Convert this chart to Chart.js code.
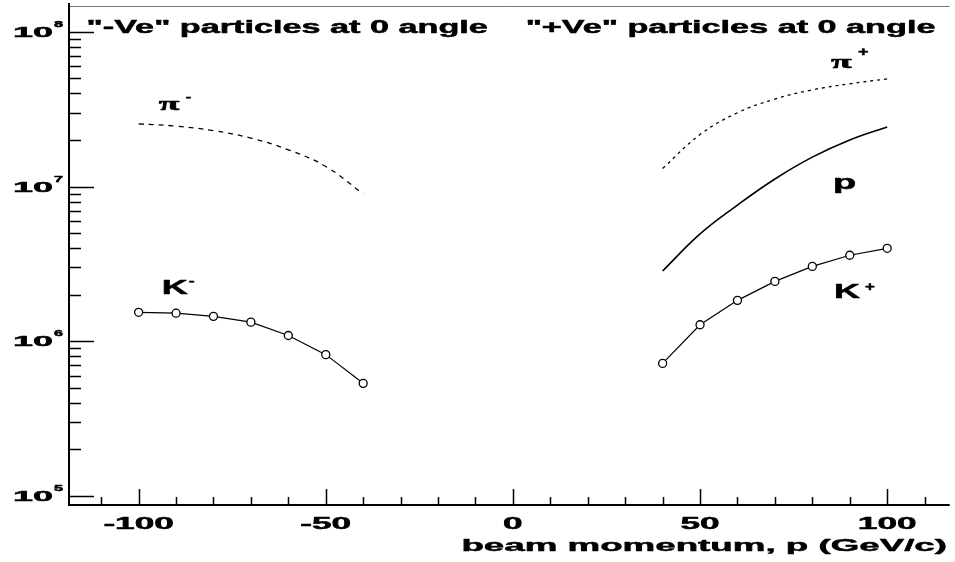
<!DOCTYPE html>
<html>
<head>
<meta charset="utf-8">
<script src="https://cdn.jsdelivr.net/npm/chart.js@4.4.1/dist/chart.umd.min.js"></script>
<style>
  html, body { margin: 0; padding: 0; background: #fff; }
  #wrap { width: 955px; height: 562px; }
</style>
</head>
<body>
<div id="wrap"><canvas id="chart" width="955" height="562"></canvas></div>
<script>
// beam momentum (GeV/c)
const negMomenta = [-100, -90, -80, -70, -60, -50, -40];
const posMomenta = [40, 50, 60, 70, 80, 90, 100];

// yields at 0 angle
const piMinus = [2.54e7, 2.46e7, 2.30e7, 2.06e7, 1.73e7, 1.35e7, 8.97e6];
const kMinus = [1.54e6, 1.52e6, 1.45e6, 1.33e6, 1.09e6, 8.2e5, 5.35e5];
const piPlus = [1.31e7, 2.17e7, 3.0e7, 3.68e7, 4.22e7, 4.62e7, 4.97e7];
const proton = [2.85e6, 4.95e6, 7.6e6, 1.12e7, 1.55e7, 2.0e7, 2.43e7];
const kPlus = [7.2e5, 1.28e6, 1.84e6, 2.44e6, 3.05e6, 3.6e6, 3.99e6];

// ticks
const xMajorTicks = [-100, -50, 0, 50, 100];
const xMinorTicks = [-110, -90, -80, -70, -60, -40, -30, -20, -10, 10, 20, 30, 40, 60, 70, 80, 90, 110];
const yDecades = [5, 6, 7, 8];

const FONT = "'Liberation Sans', Arial, sans-serif";
const SERIF = "'Liberation Serif', 'Times New Roman', serif";

function pts(xs, ys) {
  return xs.map((x, i) => ({ x: x, y: ys[i] }));
}

// text is drawn horizontally stretched and a bit heavier, like the old plot
function wideText(ctx, str, x, y, size, sx, align, family) {
  ctx.save();
  ctx.font = "bold " + size + "px " + (family || FONT);
  ctx.textAlign = align || "left";
  ctx.textBaseline = "alphabetic";
  ctx.fillStyle = "#000";
  ctx.strokeStyle = "#000";
  ctx.lineWidth = 0.5;
  ctx.lineJoin = "round";
  ctx.translate(x, y);
  ctx.scale(sx, 1);
  ctx.fillText(str, 0, 0);
  ctx.strokeText(str, 0, 0);
  ctx.restore();
}

const frame = {
  id: "frame",
  afterDraw(chart) {
    const ctx = chart.ctx;
    const area = chart.chartArea;
    const xs = chart.scales.x, ys = chart.scales.y;

    ctx.save();
    // top border
    ctx.strokeStyle = "#777";
    ctx.lineWidth = 1;
    ctx.beginPath();
    ctx.moveTo(area.left, area.top + 0.5);
    ctx.lineTo(area.right, area.top + 0.5);
    ctx.stroke();
    // axes
    ctx.strokeStyle = "#000";
    ctx.lineWidth = 2;
    ctx.beginPath();
    ctx.moveTo(area.left, area.top - 3);
    ctx.lineTo(area.left, area.bottom);
    ctx.lineTo(area.right, area.bottom);
    ctx.stroke();

    // y ticks, pointing inside
    ctx.lineWidth = 1.5;
    ctx.beginPath();
    yDecades.forEach(d => {
      for (let k = 1; k <= 9; k++) {
        const v = k * Math.pow(10, d);
        if (v > ys.max) continue;
        const y = Math.round(ys.getPixelForValue(v)) + 0.5;
        ctx.moveTo(area.left, y);
        ctx.lineTo(area.left + (k === 1 ? 25 : 12), y);
      }
    });
    // x ticks, pointing up
    xMajorTicks.forEach(v => {
      const x = Math.round(xs.getPixelForValue(v)) + 0.5;
      ctx.moveTo(x, area.bottom);
      ctx.lineTo(x, area.bottom - 16);
    });
    xMinorTicks.forEach(v => {
      const x = Math.round(xs.getPixelForValue(v)) + 0.5;
      ctx.moveTo(x, area.bottom);
      ctx.lineTo(x, area.bottom - 8);
    });
    ctx.stroke();
    ctx.restore();

    // y tick labels 10^n
    yDecades.forEach(d => {
      const y = ys.getPixelForValue(Math.pow(10, d));
      wideText(ctx, "10", 53, y + 5, 15, 2.4, "right");
      wideText(ctx, String(d), 54, y - 5, 9, 1.8, "left");
    });
    // x tick labels
    xMajorTicks.forEach(v => {
      const x = xs.getPixelForValue(v);
      const s = v < 0 ? "-" + Math.abs(v) : String(v);
      wideText(ctx, s, x, 529, 16, 2.2, "center");
    });
    // x axis title
    wideText(ctx, "beam momentum, p (GeV/c)", 947, 551, 17, 2.16, "right");

    // headers
    const hy = ys.getPixelForValue(9.86e7);
    wideText(ctx, "\"-Ve\" particles at 0 angle", xs.getPixelForValue(-113.9), hy, 18, 1.9, "left");
    wideText(ctx, "\"+Ve\" particles at 0 angle", xs.getPixelForValue(3.4), hy, 18, 1.9, "left");

    // curve labels
    let x, y;
    x = xs.getPixelForValue(-94.6); y = ys.getPixelForValue(3.15e7);
    wideText(ctx, "\u03c0", x, y, 18, 2.1, "left", SERIF);
    wideText(ctx, "-", x + 27, y - 10, 10, 1.6, "left");

    x = xs.getPixelForValue(85); y = ys.getPixelForValue(5.87e7);
    wideText(ctx, "\u03c0", x, y, 18, 2.1, "left", SERIF);
    wideText(ctx, "+", x + 27, y - 12, 12, 1.5, "left");

    x = xs.getPixelForValue(85.5); y = ys.getPixelForValue(9.6e6);
    wideText(ctx, "p", x, y, 20, 1.9, "left");

    x = xs.getPixelForValue(-93.8); y = ys.getPixelForValue(2.01e6);
    wideText(ctx, "K", x, y, 20, 1.8, "left");
    wideText(ctx, "-", x + 27, y - 10, 11, 1.6, "left");

    x = xs.getPixelForValue(85.8); y = ys.getPixelForValue(1.9e6);
    wideText(ctx, "K", x, y, 20, 1.8, "left");
    wideText(ctx, "+", x + 31, y - 7, 13, 1.3, "left");
  }
};

const markerStyle = {
  pointRadius: 4,
  pointStyle: "circle",
  pointBackgroundColor: "#fff",
  pointBorderColor: "#000",
  pointBorderWidth: 1.3
};

new Chart(document.getElementById("chart"), {
  type: "scatter",
  data: {
    datasets: [
      {
        label: "pi-",
        data: pts(negMomenta, piMinus),
        showLine: true,
        borderColor: "#000",
        borderWidth: 1.3,
        borderDash: [5, 5],
        pointRadius: 0,
        tension: 0.4
      },
      Object.assign({
        label: "K-",
        data: pts(negMomenta, kMinus),
        showLine: true,
        borderColor: "#000",
        borderWidth: 1.2,
        tension: 0
      }, markerStyle),
      {
        label: "pi+",
        data: pts(posMomenta, piPlus),
        showLine: true,
        borderColor: "#000",
        borderWidth: 1.3,
        borderDash: [3, 4],
        pointRadius: 0,
        tension: 0.4
      },
      {
        label: "p",
        data: pts(posMomenta, proton),
        showLine: true,
        borderColor: "#000",
        borderWidth: 1.6,
        pointRadius: 0,
        tension: 0.4
      },
      Object.assign({
        label: "K+",
        data: pts(posMomenta, kPlus),
        showLine: true,
        borderColor: "#000",
        borderWidth: 1.2,
        tension: 0
      }, markerStyle)
    ]
  },
  options: {
    responsive: false,
    animation: false,
    devicePixelRatio: 1,
    layout: { padding: { top: 6, right: 0, left: 0, bottom: 0 } },
    plugins: {
      legend: { display: false },
      tooltip: { enabled: false }
    },
    scales: {
      x: {
        type: "linear",
        min: -118.6,
        max: 116.7,
        bounds: "data",
        grid: { display: false },
        border: { display: false },
        ticks: { display: false },
        afterFit: function(scale) { scale.height = 57; }
      },
      y: {
        type: "logarithmic",
        min: 87500,
        max: 1.47e8,
        bounds: "data",
        grid: { display: false },
        border: { display: false },
        ticks: { display: false },
        afterFit: function(scale) { scale.width = 69; }
      }
    }
  },
  plugins: [frame]
});
</script>
</body>
</html>
